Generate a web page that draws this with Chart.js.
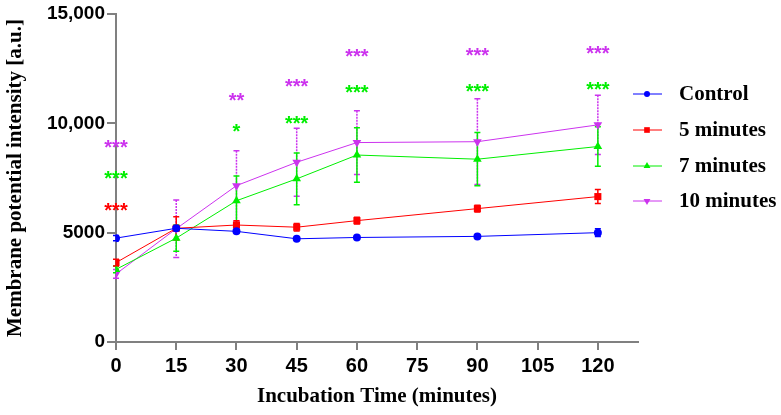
<!DOCTYPE html>
<html>
    <head>
        <title>Membrane potential</title>
        <script src="https://cdn.jsdelivr.net/npm/chart.js@4.4.1/dist/chart.umd.min.js"></script>
        <style>
            body { margin: 0; background: #fff; }
        </style>
    </head>
    <body>
        <canvas id="chart" width="781" height="415"></canvas>
        <script>
            // incubation times (minutes)
            const times = [0, 15, 30, 45, 60, 90, 120];
            const xTicks = [0, 15, 30, 45, 60, 75, 90, 105, 120];
            const yTicks = [0, 5000, 10000, 15000];
            const yTickLabels = ['0', '5000', '10,000', '15,000'];

            const seriesNames = ['Control', '5 minutes', '7 minutes', '10 minutes'];
            const control = [4750, 5200, 5060, 4720, 4780, 4830, 5000];
            const controlErr = [120, 100, 80, 60, 60, 60, 180];
            const min5 = [3630, 5200, 5350, 5250, 5550, 6100, 6650];
            const min5Err = [150, 530, 200, 170, 150, 150, 320];
            const min7 = [3320, 4750, 6460, 7460, 8550, 8360, 8940];
            const min7Err = [150, 600, 1130, 1180, 1250, 1220, 900];
            const min10 = [3110, 5180, 7150, 8220, 9120, 9160, 9930];
            const min10Err = [200, 1310, 1600, 1550, 1460, 1960, 1350];

            // significance stars
            const min5StarX = [0];
            const min5StarY = [6220];
            const min5StarText = ['***'];
            const min7StarX = [0, 30, 45, 60, 90, 120];
            const min7StarY = [7700, 9850, 10230, 11620, 11660, 11770];
            const min7StarText = ['***', '*', '***', '***', '***', '***'];
            const min10StarX = [0, 30, 45, 60, 90, 120];
            const min10StarY = [9120, 11250, 11880, 13270, 13300, 13390];
            const min10StarText = ['***', '**', '***', '***', '***', '***'];

            const colors = ['#0000FF', '#FF0000', '#00EE00', '#CC33EE'];
            const gray = '#808080';
            const serif = '"Liberation Serif", "Times New Roman", serif';
            const sans = '"Liberation Sans", Arial, sans-serif';

            let pts = (ys) => ys.map((y, i) => ({x: times[i], y: y}));

            const errors = [controlErr, min5Err, min7Err, min10Err];
            const stars = [
                null,
                {x: min5StarX, y: min5StarY, t: min5StarText},
                {x: min7StarX, y: min7StarY, t: min7StarText},
                {x: min10StarX, y: min10StarY, t: min10StarText}
            ];

            // error bars under the lines
            const errorBars = {
                id: 'errorBars',
                beforeDatasetsDraw(chart) {
                    const ctx = chart.ctx;
                    const xs = chart.scales.x, ys = chart.scales.y;
                    for (let d = errors.length - 1; d >= 0; d--) {
                        const data = chart.data.datasets[d].data;
                        ctx.save();
                        ctx.strokeStyle = colors[d];
                        ctx.lineWidth = 1.5;
                        data.forEach((p, i) => {
                            const px = xs.getPixelForValue(p.x);
                            const top = ys.getPixelForValue(p.y + errors[d][i]);
                            const bot = ys.getPixelForValue(p.y - errors[d][i]);
                            if (d === 3) ctx.setLineDash([2, 1]);
                            ctx.beginPath();
                            ctx.moveTo(px, top); ctx.lineTo(px, bot);
                            ctx.stroke();
                            ctx.setLineDash([]);
                            ctx.beginPath();
                            ctx.moveTo(px - 3, top); ctx.lineTo(px + 3, top);
                            ctx.moveTo(px - 3, bot); ctx.lineTo(px + 3, bot);
                            ctx.stroke();
                        });
                        ctx.restore();
                    }
                }
            };

            const starLabels = {
                id: 'starLabels',
                afterDatasetsDraw(chart) {
                    const ctx = chart.ctx;
                    const xs = chart.scales.x, ys = chart.scales.y;
                    const size = 20;
                    ctx.save();
                    ctx.font = 'bold ' + size + 'px ' + sans;
                    ctx.textAlign = 'center';
                    ctx.textBaseline = 'alphabetic';
                    stars.forEach((s, d) => {
                        if (!s) return;
                        ctx.fillStyle = colors[d];
                        s.x.forEach((x, i) => {
                            ctx.fillText(s.t[i], xs.getPixelForValue(x), ys.getPixelForValue(s.y[i]) + size * 0.56);
                        });
                    });
                    ctx.restore();
                }
            };

            // legend: line + marker + bold serif label
            const sideLegend = {
                id: 'sideLegend',
                afterDraw(chart) {
                    const ctx = chart.ctx;
                    const rowY = [94, 130, 166, 201];
                    ctx.save();
                    chart.data.datasets.forEach((ds, i) => {
                        const y = rowY[i];
                        ctx.strokeStyle = ds.borderColor;
                        ctx.lineWidth = 1;
                        ctx.beginPath();
                        ctx.moveTo(633, y); ctx.lineTo(662, y);
                        ctx.stroke();
                        ctx.fillStyle = ds.backgroundColor;
                        Chart.helpers.drawPoint(ctx, {
                            pointStyle: ds.pointStyle,
                            rotation: ds.pointRotation || 0,
                            radius: ds.pointRadius - 1,
                            borderWidth: 0
                        }, 647, y);
                        ctx.fillStyle = '#000';
                        ctx.font = 'bold 21px ' + serif;
                        ctx.textBaseline = 'middle';
                        ctx.textAlign = 'left';
                        ctx.fillText(ds.label, 679, y + 1);
                    });
                    ctx.restore();
                }
            };

            let makeSet = (i, data, style, radius, rot) => ({
                label: seriesNames[i],
                data: pts(data),
                borderColor: colors[i],
                backgroundColor: colors[i],
                borderWidth: 1,
                pointStyle: style,
                pointRadius: radius,
                pointRotation: rot,
                pointBorderWidth: 0,
                tension: 0
            });

            new Chart(document.getElementById('chart'), {
                type: 'line',
                data: {
                    datasets: [
                        makeSet(0, control, 'circle', 4, 0),
                        makeSet(1, min5, 'rect', 5, 0),
                        makeSet(2, min7, 'triangle', 5, 0),
                        makeSet(3, min10, 'triangle', 5, 180)
                    ]
                },
                options: {
                    responsive: false,
                    animation: false,
                    layout: { padding: { left: 0, top: 14, right: 143, bottom: 0 } },
                    plugins: { legend: { display: false }, tooltip: { enabled: false } },
                    scales: {
                        x: {
                            type: 'linear',
                            min: 0,
                            max: 130,
                            afterBuildTicks: (s) => { s.ticks = xTicks.map(v => ({value: v})); },
                            afterFit: (s) => { s.height = 73; },
                            border: { color: gray, width: 2 },
                            grid: { drawOnChartArea: false, color: gray, lineWidth: 2, tickLength: 8 },
                            ticks: {
                                color: '#000',
                                padding: 4,
                                font: { family: sans, size: 20, weight: 'bold' }
                            },
                            title: {
                                display: true,
                                text: 'Incubation Time (minutes)',
                                color: '#000',
                                padding: { top: 2, bottom: 6 },
                                font: { family: serif, size: 21, weight: 'bold' }
                            }
                        },
                        y: {
                            min: 0,
                            max: 15000,
                            afterBuildTicks: (s) => { s.ticks = yTicks.map(v => ({value: v})); },
                            afterFit: (s) => { s.width = 116; },
                            border: { color: gray, width: 2 },
                            grid: { drawOnChartArea: false, color: gray, lineWidth: 2, tickLength: 9 },
                            ticks: {
                                color: '#000',
                                padding: 2,
                                font: { family: sans, size: 19, weight: 'bold' },
                                callback: (v) => yTickLabels[yTicks.indexOf(v)]
                            },
                            title: {
                                display: true,
                                text: 'Membrane potential intensity [a.u.]',
                                color: '#000',
                                padding: { top: 3, bottom: 0 },
                                font: { family: serif, size: 21, weight: 'bold' }
                            }
                        }
                    }
                },
                plugins: [errorBars, starLabels, sideLegend]
            });
        </script>
    </body>
</html>
